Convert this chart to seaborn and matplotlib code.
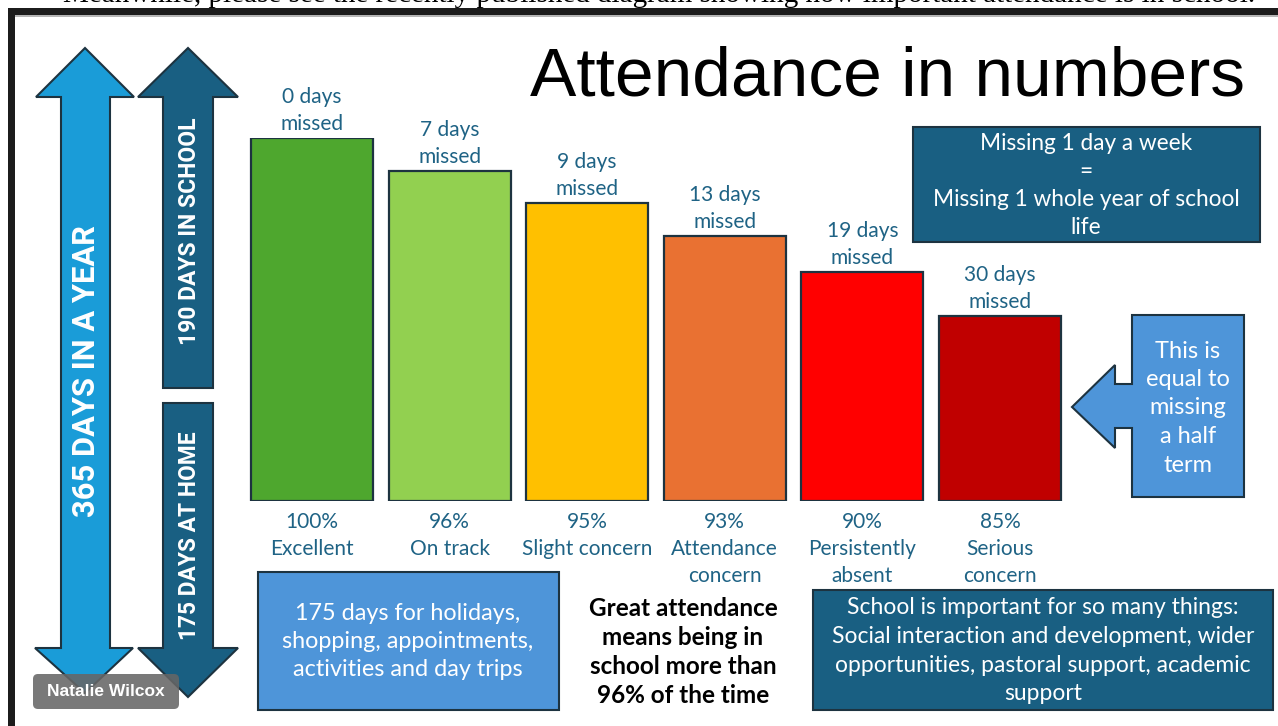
import numpy as np
import pandas as pd
import matplotlib
matplotlib.use('Agg')
import matplotlib.pyplot as plt
import seaborn as sns
from matplotlib import font_manager
from matplotlib.patches import Polygon, Rectangle, FancyBboxPatch

categories = ['Excellent', 'On track', 'Slight concern', 'Attendance\nconcern',
              'Persistently\nabsent', 'Serious\nconcern']
attendance_pct = [100, 96, 95, 93, 90, 85]
days_missed = [0, 7, 9, 13, 19, 30]
bar_height = [100, 91, 82, 73, 63, 51]   # drawn height, % of the tallest bar
bar_colors = ['#4EA72E', '#92D050', '#FFC000', '#E97132', '#FF0000', '#C00000']
year_days, school_days, home_days = 365, 190, 175

# --- style ---
sns.set_style('white')
plt.rcParams['font.family'] = ['Lato', 'DejaVu Sans']
names = {f.name for f in font_manager.fontManager.ttflist}
narrow = 'Liberation Sans Narrow' if 'Liberation Sans Narrow' in names else 'Roboto'

TEAL = '#1F6385'
DARK = '#195F82'
MID = '#4E95D9'
LIGHT = '#1A9CD8'
EDGE = '#1d3340'

W, H = 1278, 726
fig = plt.figure(figsize=(W / 100, H / 100), dpi=100)
bg = fig.add_axes([0, 0, 1, 1])
bg.set_xlim(0, W)
bg.set_ylim(H, 0)
bg.axis('off')


def px_axes(x0, y0, x1, y1):
    return fig.add_axes([x0 / W, 1 - y1 / H, (x1 - x0) / W, (y1 - y0) / H])


def fit(t, length, vertical=False):
    bb = t.get_window_extent(fig.canvas.get_renderer())
    t.set_fontsize(t.get_fontsize() * length / (bb.height if vertical else bb.width))


def lines(x, y0, step, rows, **kw):
    for k, r in enumerate(rows):
        bg.text(x, y0 + k * step, r, ha='center', va='center', **kw)


# page frame and clipped caption line above it (cut off in the original too)
bg.add_patch(Rectangle((8, 8), W, 7, color='#1c1c1c', lw=0))
bg.add_patch(Rectangle((8, 8), 7, H, color='#1c1c1c', lw=0))
bg.add_patch(Rectangle((15, 15), W, 1.5, color='#b5b5b5', lw=0))
cap = bg.text(1255, 2, 'Meanwhile, please see the recently published diagram showing how '
              'important attendance is in school.', family='Liberation Serif',
              fontsize=21, ha='right', va='baseline', color='black')

# title
title = bg.text(530, 95, 'Attendance in numbers', family='Liberation Sans',
                fontsize=50, ha='left', va='baseline', color='black')
fit(title, 715)

# --- bars ---
ax = px_axes(243.2, 138, 1068.8, 501)
df = pd.DataFrame({'label': categories, 'height': bar_height})
sns.barplot(data=df, x='label', y='height', hue='label', palette=bar_colors,
            legend=False, width=0.887, saturation=1, edgecolor=EDGE,
            linewidth=1.6, ax=ax)
ax.set_xlim(-0.5, 5.5)
ax.set_ylim(0, 100)
ax.axis('off')

for i, (d, p, c) in enumerate(zip(days_missed, attendance_pct, categories)):
    ax.annotate(f'{d} days\nmissed', (i, bar_height[i]), xytext=(0, 3),
                textcoords='offset points', ha='center', va='bottom',
                fontsize=15, color=TEAL, linespacing=1.42)
    ax.annotate(f'{p}%\n{c}', (i, 0), xytext=(0, -8),
                textcoords='offset points', ha='center', va='top',
                fontsize=15, color=TEAL, linespacing=1.42)

# --- day arrows on the left ---
big = [(85, 48), (134, 97), (110, 97), (110, 648), (133, 648), (85, 693),
       (35, 648), (61, 648), (61, 97), (36, 97)]
up = [(188, 48), (238, 97), (213, 97), (213, 388), (163, 388), (163, 97), (138, 97)]
down = [(163, 403), (213, 403), (213, 648), (238, 648), (188, 697), (138, 648), (163, 648)]
bg.add_patch(Polygon(big, closed=True, fc=LIGHT, ec=EDGE, lw=1.5))
bg.add_patch(Polygon(up, closed=True, fc=DARK, ec=EDGE, lw=1.5))
bg.add_patch(Polygon(down, closed=True, fc=DARK, ec=EDGE, lw=1.5))

t = bg.text(86, 371, f'{year_days} DAYS IN A YEAR', rotation=90, ha='center',
            va='center', color='white', fontweight='bold', family=narrow, fontsize=26)
fit(t, 292, vertical=True)
t = bg.text(189, 231, f'{school_days} DAYS IN SCHOOL', rotation=90, ha='center',
            va='center', color='white', fontweight='bold', family=narrow, fontsize=20)
fit(t, 227, vertical=True)
t = bg.text(189, 536, f'{home_days} DAYS AT HOME', rotation=90, ha='center',
            va='center', color='white', fontweight='bold', family=narrow, fontsize=20)
fit(t, 208, vertical=True)

bg.add_patch(FancyBboxPatch((33, 674), 146, 35, boxstyle='round,pad=0,rounding_size=5',
                            fc='#666666', ec='none', alpha=0.88))
bg.text(106, 692, 'Natalie Wilcox', family='Liberation Sans', fontweight='bold',
        fontsize=12.5, color='white', ha='center', va='center')

# --- text boxes ---
bg.add_patch(Rectangle((913, 127), 347, 115, fc=DARK, ec=EDGE, lw=1.5))
lines(1086, 143, 28.3, ['Missing 1 day a week', '=', 'Missing 1 whole year of school', 'life'],
      color='white', fontsize=16.3)

call = [(1132, 315), (1244, 315), (1244, 497), (1132, 497), (1132, 428), (1115, 428),
        (1115, 448), (1072, 407), (1115, 365), (1115, 384), (1132, 384)]
bg.add_patch(Polygon(call, closed=True, fc=MID, ec=EDGE, lw=1.5))
lines(1188, 351, 28.5, ['This is', 'equal to', 'missing', 'a half', 'term'],
      color='white', fontsize=17)

bg.add_patch(Rectangle((258, 572), 301, 138, fc=MID, ec=EDGE, lw=1.5))
lines(408, 613, 28.5, [f'{home_days} days for holidays,', 'shopping, appointments,',
                       'activities and day trips'], color='white', fontsize=16.8)

lines(683, 609, 28.7, ['Great attendance', 'means being in', 'school more than',
                       f'{attendance_pct[1]}% of the time'],
      color='black', fontsize=17.5, fontweight='bold')

bg.add_patch(Rectangle((813, 590), 460, 120, fc=DARK, ec=EDGE, lw=1.5))
lines(1043, 608, 28.5, ['School is important for so many things:',
                        'Social interaction and development, wider',
                        'opportunities, pastoral support, academic', 'support'],
      color='white', fontsize=16.5)

fig.savefig('out.png', dpi=100)
